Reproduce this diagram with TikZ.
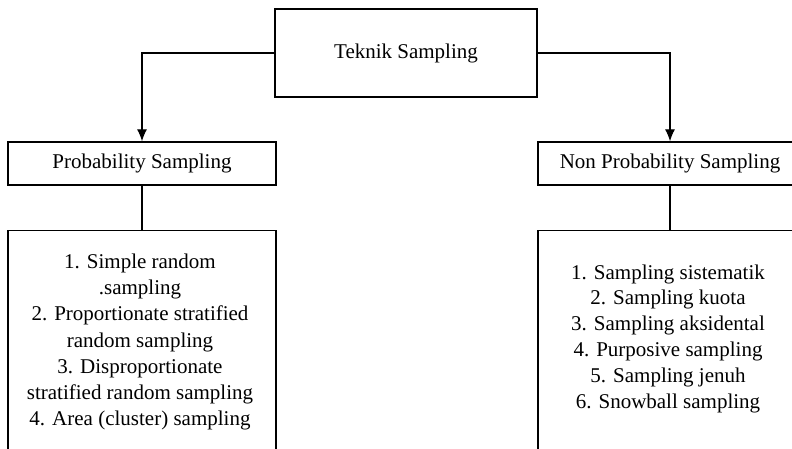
\documentclass[tikz,border=0pt]{standalone}
\usepackage{fontspec}
\setmainfont{Liberation Serif}
\usetikzlibrary{arrows.meta}

\tikzset{
  box/.style={draw, line width=1.3pt, rectangle, inner sep=0pt},
  label/.style={font=\fontsize{21}{25}\selectfont},
  listtext/.style={align=center, inner sep=0pt},
  link/.style={line width=1.3pt},
  arrowlink/.style={line width=1.3pt, -{Latex[length=12pt,width=10pt]}}
}

\begin{document}
\begin{tikzpicture}[x=1pt, y=-1pt]
  \clip (0,0) rectangle (792,449);
  \fill[white] (0,0) rectangle (792,449);

  % root
  \node[box, label, minimum width=262pt, minimum height=88pt] (root) at (406,53) {Teknik Sampling};

  % second level
  \node[box, label, minimum width=268pt, minimum height=43pt] (prob) at (142,163.5) {Probability Sampling};
  \node[box, label, minimum width=264pt, minimum height=43pt] (nonprob) at (670,163.5) {Non Probability Sampling};

  % list boxes (open at the bottom of the page)
  \node[box, minimum width=268pt, minimum height=250pt, anchor=north] (plist) at (142,230) {};
  \node[box, minimum width=264pt, minimum height=250pt, anchor=north] (nlist) at (670,230) {};

  \node[listtext, font=\fontsize{21}{26.2}\selectfont] (ptext) at (140,342) {%
    1. Simple random\\
    .sampling\\
    2. Proportionate stratified\\
    random sampling\\
    3. Disproportionate\\
    stratified random sampling\\
    4. Area (cluster) sampling};

  \node[listtext, font=\fontsize{21}{25.8}\selectfont] (ntext) at (668,338.5) {%
    1. Sampling sistematik\\
    2. Sampling kuota\\
    3. Sampling aksidental\\
    4. Purposive sampling\\
    5. Sampling jenuh\\
    6. Snowball sampling};

  % connectors
  \draw[arrowlink] (root.west) -| (prob.north);
  \draw[arrowlink] (root.east) -| (nonprob.north);
  \draw[link] (prob.south) -- (plist.north);
  \draw[link] (nonprob.south) -- (nlist.north);
\end{tikzpicture}
\end{document}
